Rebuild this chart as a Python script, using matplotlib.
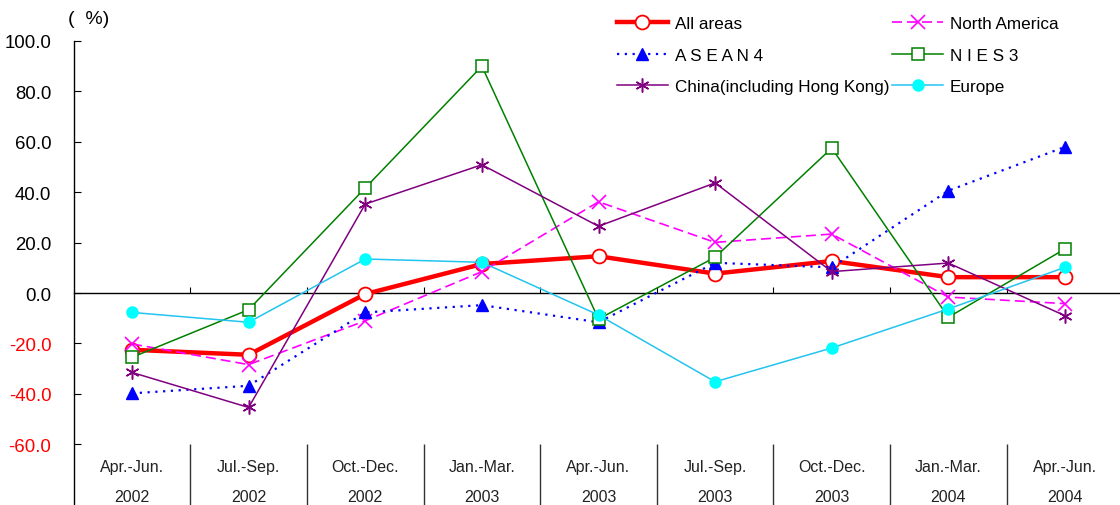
import matplotlib.pyplot as plt

plt.rcParams['font.family'] = ['Liberation Sans', 'DejaVu Sans']

quarters = ['Apr. - Jun.', 'Jul. - Sep.', 'Oct. - Dec.', 'Jan. - Mar.', 'Apr. - Jun.',
            'Jul. - Sep.', 'Oct. - Dec.', 'Jan. - Mar.', 'Apr. - Jun.']
years = ['2002', '2002', '2002', '2003', '2003', '2003', '2003', '2004', '2004']

all_areas = [-22.5, -24.5, -0.4, 11.5, 14.6, 7.7, 12.7, 6.3, 6.3]
north_america = [-20.2, -28.4, -11.0, 8.5, 36.2, 20.1, 23.4, -1.6, -4.2]
asean4 = [-39.8, -36.8, -7.7, -4.8, -11.6, 12.0, 10.2, 40.6, 58.0]
nies3 = [-25.5, -6.6, 41.7, 90.0, -10.3, 14.2, 57.5, -9.6, 17.5]
china = [-31.5, -45.4, 35.3, 50.9, 26.5, 43.7, 8.5, 11.9, -9.0]
europe = [-7.7, -11.6, 13.5, 12.2, -8.7, -35.2, -21.8, -6.3, 10.2]

yticks = [100, 80, 60, 40, 20, 0, -20, -40, -60]

W, H = 1120, 506
fig = plt.figure(figsize=(W / 100, H / 100), dpi=100)
left, right, top = 73.7, 1123.3, 42
ax = fig.add_axes([left / W, 0, (right - left) / W, 1 - top / H])
ymin = -84.1
ax.set_xlim(-0.5, 8.5)
ax.set_ylim(ymin, 100)

x = list(range(len(quarters)))
l_all, = ax.plot(x, all_areas, color='#ff0000', lw=3.2, marker='o', ms=10,
                 mfc='white', mec='#ff0000', mew=1.3, label='All areas', zorder=3)
l_na, = ax.plot(x, north_america, color='#ff00ff', lw=1.2, ls=(0, (6, 3)), marker='x',
                ms=10, mew=1.2, label='North America', zorder=4)
l_as, = ax.plot(x, asean4, color='#0000ff', lw=1.6, ls=(0, (1, 2.5)), marker='^',
                ms=8, label='A S E A N 4', zorder=4)
l_ni, = ax.plot(x, nies3, color='#008000', lw=1.1, marker='s', ms=8,
                mfc='white', mec='#008000', mew=1.1, label='N I E S 3', zorder=4)
l_cn, = ax.plot(x, china, color='#800080', lw=1.1, marker=(6, 2, 0), ms=10, mew=1.1,
                label='China(including Hong Kong)', zorder=4)
l_eu, = ax.plot(x, europe, color='#22c4f0', lw=1.1, marker='o', ms=8,
                mfc='#00ffff', mec='#00ffff', label='Europe', zorder=5)

# axes: left spine full height, horizontal axis through zero
for s in ['top', 'right']:
    ax.spines[s].set_visible(False)
ax.spines['bottom'].set_position(('data', 0))
ax.spines['left'].set_linewidth(1.0)
ax.spines['bottom'].set_linewidth(1.0)

ax.set_yticks(yticks)
ax.set_yticklabels([f'{v:.1f}' for v in yticks], fontsize=13.4)
for lab, v in zip(ax.get_yticklabels(), yticks):
    lab.set_color('#ff0000' if v < 0 else 'black')
ax.tick_params(axis='y', direction='in', length=5, pad=16)

bounds = [i + 0.5 for i in range(len(quarters) - 1)]
ax.set_xticks(bounds)
ax.set_xticklabels([])
ax.tick_params(axis='x', direction='in', length=4)

# category separators and labels below the plot area
ax.vlines(bounds, ymin, -60, color='#333333', lw=1.0)
for i, (q, yr) in enumerate(zip(quarters, years)):
    ax.text(i, -68.7, q.replace(' - ', '-'), ha='center', va='center', fontsize=11.5,
            color='#222222')
    ax.text(i, -80.6, yr, ha='center', va='center', fontsize=11.5, color='#222222')

fig.text(68 / W, 1 - 19 / H, '(  %)', ha='left', va='center', fontsize=14)

handles = [l_all, l_as, l_cn, l_na, l_ni, l_eu]
leg = ax.legend(handles=handles, ncol=2, frameon=False, fontsize=12.3, handlelength=3.0,
                handletextpad=0.4, columnspacing=0.15, labelspacing=0.98,
                loc='upper left', bbox_to_anchor=(610 / W, 1 - 10 / H),
                bbox_transform=fig.transFigure, borderaxespad=0)
for t in leg.get_texts():
    if t.get_text().startswith(('A S', 'N I')):
        t.set_family(['Liberation Sans Narrow', 'Liberation Sans'])

fig.savefig('out.png', dpi=100)
